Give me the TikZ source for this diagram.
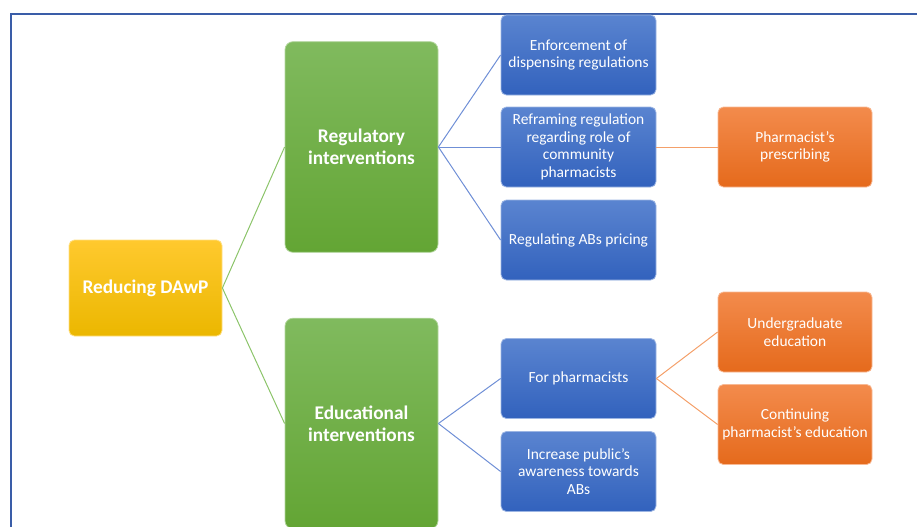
\documentclass[tikz,border=0pt]{standalone}
\usepackage{fontspec}
\setmainfont{Carlito}
\usepackage{xcolor}
\usetikzlibrary{positioning}
\definecolor{frameB}{HTML}{3A5DA8}
\definecolor{rootTop}{HTML}{FFC92E}
\definecolor{rootBot}{HTML}{EBB700}
\definecolor{grpTop}{HTML}{80BA5E}
\definecolor{grpBot}{HTML}{63A534}
\definecolor{actTop}{HTML}{5A84D0}
\definecolor{actBot}{HTML}{3262BD}
\definecolor{subTop}{HTML}{F38B4C}
\definecolor{subBot}{HTML}{E56A1C}
\definecolor{linkG}{HTML}{8CC46A}
\definecolor{linkB}{HTML}{6F8FD6}
\definecolor{linkO}{HTML}{F4A06A}

\begin{document}
\begin{tikzpicture}[x=0.75pt, y=-0.75pt,
   box/.style={rectangle, inner sep=0pt, align=center, text=white,
               rounded corners=4pt, line width=0.6pt},
   rootbox/.style={box, minimum width=114.75pt, minimum height=72pt,
               top color=rootTop, bottom color=rootBot, draw=rootTop!60!white,
               font=\fontsize{14.5}{16.5}\selectfont\bfseries},
   grpbox/.style={box, minimum width=114.75pt, minimum height=158pt,
               rounded corners=6pt,
               top color=grpTop, bottom color=grpBot, draw=grpTop!60!white,
               font=\fontsize{14.5}{16.5}\selectfont\bfseries},
   actbox/.style={box, minimum width=116.25pt, minimum height=60pt,
               top color=actTop, bottom color=actBot, draw=actTop!60!white,
               font=\fontsize{11.6}{13.3}\selectfont},
   subbox/.style={box, minimum width=115.5pt, minimum height=60pt,
               top color=subTop, bottom color=subBot, draw=subTop!60!white,
               font=\fontsize{11.6}{13.3}\selectfont},
   link/.style={line width=0.75pt}]
  \useasboundingbox (0,0) rectangle (917,526);
  \clip (0,0) rectangle (917,526);
  % outer frame (runs off the right and bottom edges)
  \draw[frameB, line width=1.5pt] (11,14) rectangle (940,550);

  % root and the two groups
  \node[rootbox] (root) at (145.5,288) {Reducing DAwP};
  \node[grpbox] (reg) at (361.5,147) {Regulatory\\interventions};
  \node[grpbox] (edu) at (361.5,423.5) {Educational\\interventions};

  % actions
  \foreach \nm/\yy/\txt in {%
    enf/55/{Enforcement of\\dispensing regulations},%
    refr/147/{Reframing regulation\\regarding role of\\community\\pharmacists},%
    price/240/{Regulating ABs pricing},%
    forph/378.5/{For pharmacists},%
    public/471.5/{Increase public’s\\awareness towards\\ABs}}{%
      \node[actbox] (\nm) at (578.5,\yy) {\txt};
  }

  % sub-actions
  \foreach \nm/\yy/\txt in {%
    presc/147/{Pharmacist’s\\prescribing},%
    under/332/{Undergraduate\\education},%
    cont/424.5/{Continuing\\pharmacist’s education}}{%
      \node[subbox] (\nm) at (795,\yy) {\txt};
  }

  % connectors
  \draw[link, linkG] (reg.west) -- (root.east) -- (edu.west);
  \foreach \t in {enf, refr, price}
    \draw[link, linkB] (reg.east) -- (\t.west);
  \foreach \t in {forph, public}
    \draw[link, linkB] (edu.east) -- (\t.west);
  \draw[link, linkO] (refr.east) -- (presc.west);
  \foreach \t in {under, cont}
    \draw[link, linkO] (forph.east) -- (\t.west);
\end{tikzpicture}
\end{document}
